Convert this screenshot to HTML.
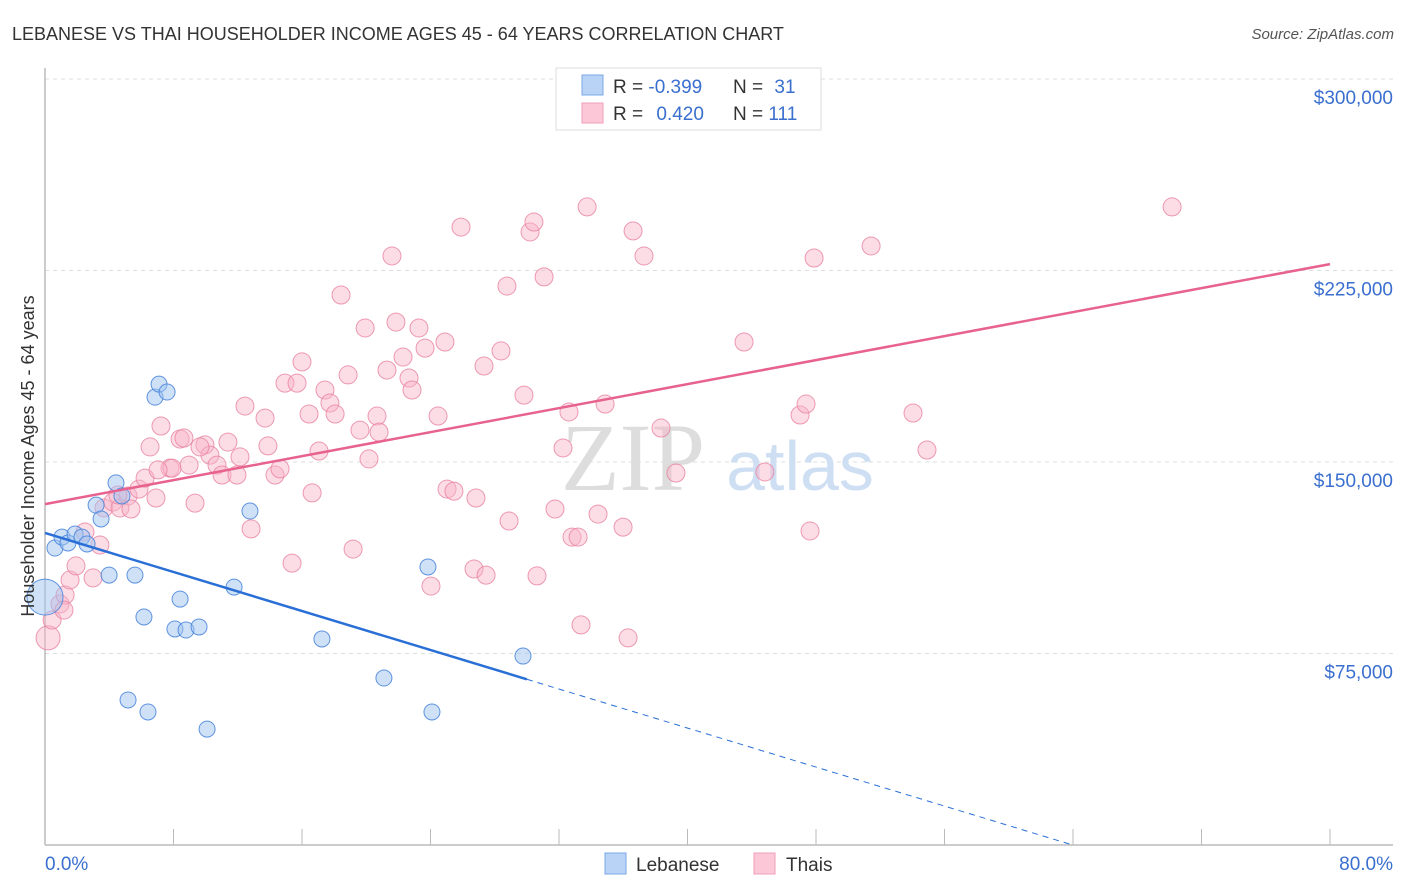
<!DOCTYPE html>
<html><head><meta charset="utf-8"><style>
body{margin:0;background:#fff;font-family:"Liberation Sans",sans-serif}
svg{display:block}
</style></head><body>
<svg id="chart" width="1406" height="892" xmlns="http://www.w3.org/2000/svg">
<text x="12" y="40" font-size="18" fill="#333">LEBANESE VS THAI HOUSEHOLDER INCOME AGES 45 - 64 YEARS CORRELATION CHART</text>
<text x="1394" y="39" font-size="15" fill="#555" font-style="italic" text-anchor="end">Source: ZipAtlas.com</text>
<g id="grid"></g>
<text x="633" y="490" font-size="96" fill="#ddd" font-family="Liberation Serif,serif" text-anchor="middle">ZIP</text>
<text x="800" y="490" font-size="70" fill="#cfdff3" text-anchor="middle">atlas</text>
<g id="yaxis"></g>
<g id="xaxis"></g>
<g id="pink"></g>
<g id="blue"></g>
<g id="trends"></g>
<text transform="translate(34,456) rotate(-90)" font-size="18" fill="#333" text-anchor="middle">Householder Income Ages 45 - 64 years</text>
<g>
<rect x="556" y="68" width="265" height="62" fill="#fff" stroke="#ddd"/>
<rect x="582" y="75" width="21" height="20" fill="#b8d3f5" stroke="#7aa7e3"/>
<rect x="582" y="103" width="21" height="20" fill="#fcc8d8" stroke="#ef9fb8"/>
<text x="613" y="93" font-size="19" fill="#333">R = <tspan fill="#3a6fcf">-0.399</tspan></text>
<text x="733" y="93" font-size="19" fill="#333">N = <tspan fill="#3a6fcf" dx="6">31</tspan></text>
<text x="613" y="120" font-size="19" fill="#333">R = <tspan fill="#3a6fcf" dx="8">0.420</tspan></text>
<text x="733" y="120" font-size="19" fill="#333">N = <tspan fill="#3a6fcf">111</tspan></text>
</g>
<g>
<rect x="605" y="853" width="21" height="21" fill="#b8d3f5" stroke="#7aa7e3"/>
<text x="636" y="871" font-size="19" fill="#333">Lebanese</text>
<rect x="754" y="853" width="21" height="21" fill="#fcc8d8" stroke="#ef9fb8"/>
<text x="786" y="871" font-size="19" fill="#333">Thais</text>
</g>
</svg>
<script>
const yTicks=[75000,150000,225000,300000];
const yTickLabels=["$75,000","$150,000","$225,000","$300,000"];
const xTickLabels=["0.0%","80.0%"];
const blueX=[0,0.62,1.06,1.43,1.87,2.30,2.62,3.18,3.49,3.99,4.42,4.79,5.60,6.16,5.17,6.41,6.85,7.10,7.60,8.09,8.41,8.78,9.59,10.09,11.77,12.76,17.24,21.10,23.84,24.09,29.76];
const blueY=[97.1,116.3,120.6,118.3,121.8,120.6,117.9,133.1,127.7,105.7,141.8,136.7,105.7,89.3,56.8,52.1,175.4,180.5,177.4,84.6,96.3,84.2,85.4,45.4,101.0,130.8,80.7,65.4,108.9,52.1,74.0];
const pinkX=[0.19,0.44,0.93,1.25,1.56,1.93,2.49,2.99,3.67,4.23,4.67,5.17,5.35,5.85,6.23,6.54,6.91,7.22,7.78,7.91,8.41,8.65,8.97,9.34,9.96,10.27,10.71,11.02,11.39,11.95,12.14,12.45,12.83,13.70,13.88,14.32,14.63,14.94,15.38,15.69,16.00,16.44,16.63,17.06,17.43,17.74,18.06,18.43,18.87,19.18,19.61,19.93,20.17,20.67,20.80,21.29,21.60,21.85,22.29,22.66,22.85,23.28,23.66,24.03,24.47,24.90,25.03,25.46,25.90,26.71,26.83,27.33,27.46,28.39,28.76,28.89,29.82,30.20,30.44,30.63,31.07,31.75,32.25,32.62,32.81,33.19,33.37,33.75,34.43,34.87,35.99,36.30,36.61,37.29,38.35,39.28,43.52,44.82,47.01,47.38,47.63,47.88,51.43,54.04,54.91,70.17,4.54,3.42,7.04,1.18,9.65];
const pinkY=[81.1,88.1,94.4,97.9,103.8,109.3,122.6,104.6,132.0,134.3,132.0,136.7,131.6,139.4,143.7,155.9,135.9,164.1,147.6,147.6,159.0,159.4,148.8,133.9,156.7,152.7,148.8,144.9,157.8,144.9,152.0,171.9,123.8,167.2,156.3,144.9,147.3,180.9,110.4,180.9,189.2,168.8,137.9,154.3,178.2,173.1,168.8,215.4,184.1,115.9,162.5,202.5,151.2,168.0,161.7,186.0,230.7,204.8,191.1,182.9,178.2,202.5,194.6,101.4,168.0,197.0,139.4,138.6,242.0,108.1,135.9,187.6,105.7,193.5,218.9,126.9,176.2,240.1,244.0,105.4,222.5,131.6,155.5,169.6,120.6,120.6,86.2,249.9,129.6,172.7,124.5,81.1,240.5,230.7,163.3,145.7,197.0,146.1,168.4,172.7,123.0,229.9,234.6,169.2,154.7,249.9,137.1,117.5,146.9,92.0,155.9];
const blueTrend=[122.2,-1.91];
const pinkTrend=[133.5,1.175];
const NS="http://www.w3.org/2000/svg";
const X0=45,X1=1330,Y0=845,YTOP=79;
function sx(p){return X0+(p/80)*(X1-X0);}
function sy(k){return Y0-(k/300)*(Y0-YTOP);}
function mk(tag,attrs,parent){const e=document.createElementNS(NS,tag);for(const k in attrs)e.setAttribute(k,attrs[k]);parent.appendChild(e);return e;}
const grid=document.getElementById('grid'),ya=document.getElementById('yaxis'),xa=document.getElementById('xaxis');
yTicks.forEach((v,i)=>{
 const l=mk('line',{x1:X0,x2:1393,y1:sy(v/1000),y2:sy(v/1000),stroke:'#ddd','stroke-dasharray':'4,4'},grid);
 
 
 const t=mk('text',{x:1393,y:sy(v/1000)+25,'font-size':19,fill:'#3a6fcf','text-anchor':'end'},ya);
 t.textContent=yTickLabels[i];
 
 
});
mk('line',{x1:X0,x2:X0,y1:68,y2:Y0,stroke:'#bbb','stroke-width':1.5},ya);
mk('line',{x1:X0,x2:1393,y1:Y0,y2:Y0,stroke:'#bbb','stroke-width':1.5},xa);
for(let p=0;p<=80;p+=8){const l=mk('line',{x1:sx(p),x2:sx(p),y1:Y0,y2:Y0-16,stroke:'#bbb'},xa);
 
 }
const t0=mk('text',{x:45,y:870,'font-size':19,fill:'#3a6fcf'},xa);t0.textContent=xTickLabels[0];


const t1=mk('text',{x:1393,y:870,'font-size':19,fill:'#3a6fcf','text-anchor':'end'},xa);t1.textContent=xTickLabels[1];


const pg=document.getElementById('pink');
pinkX.forEach((x,i)=>{const c=mk('circle',{cx:sx(x),cy:sy(pinkY[i]),r:i===0?12:9,fill:'rgba(248,180,200,0.45)',stroke:'rgba(232,130,160,0.8)','stroke-width':1},pg);
 
 });
const bg=document.getElementById('blue');
blueX.forEach((x,i)=>{const c=mk('circle',{cx:sx(x),cy:sy(blueY[i]),r:i===0?18:8,fill:'rgba(160,195,240,0.5)',stroke:'rgba(70,130,220,0.85)','stroke-width':1},bg);
 
 });
const tg=document.getElementById('trends');
const pl=mk('line',{x1:sx(0),y1:sy(pinkTrend[0]),x2:sx(80),y2:sy(pinkTrend[0]+80*pinkTrend[1]),stroke:'#e8628f','stroke-width':2.5},tg);


const bl=mk('line',{x1:sx(0),y1:sy(blueTrend[0]),x2:sx(30),y2:sy(blueTrend[0]+30*blueTrend[1]),stroke:'#2a6fd6','stroke-width':2.5},tg);


const xEnd=-blueTrend[0]/blueTrend[1];
const bd=mk('line',{x1:sx(30),y1:sy(blueTrend[0]+30*blueTrend[1]),x2:sx(xEnd),y2:sy(0),stroke:'#2a6fd6','stroke-width':1,'stroke-dasharray':'6,5'},tg);


</script>
</body></html>
